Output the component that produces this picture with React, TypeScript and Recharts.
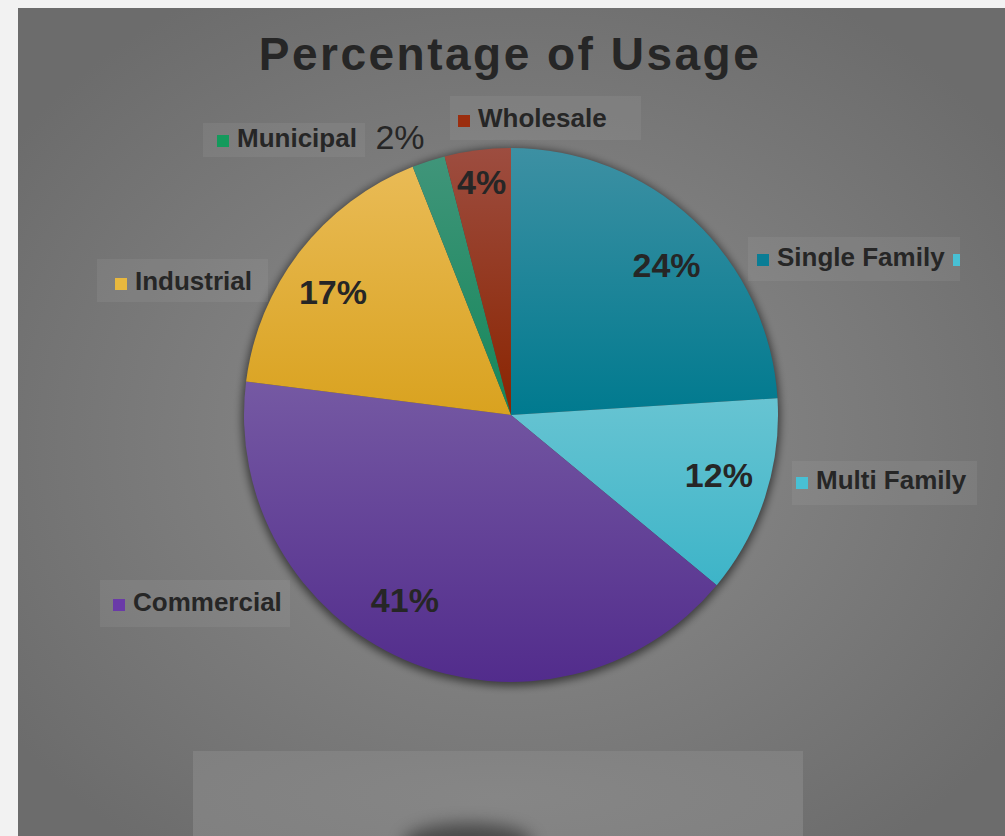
import { PieChart, Pie, Cell } from "recharts";

const categories = ["Single Family", "Multi Family", "Commercial", "Industrial", "Municipal", "Wholesale"];
const shares = [24, 12, 41, 17, 2, 4];
const percentLabels = ["24%", "12%", "41%", "17%", "2%", "4%"];

const data = categories.map((name, i) => ({ name, value: shares[i], label: percentLabels[i] }));

// gradient top -> bottom for each slice, plus legend marker colour
const sliceTop = ["#3d90a3", "#67c4d2", "#7559a3", "#e9bb56", "#40957a", "#9d4d40"];
const sliceBottom = ["#007a8f", "#3db4c8", "#522c8c", "#d9a21f", "#15875a", "#8a2400"];
const markerColors = ["#0a7d95", "#48c0d4", "#6a3aa8", "#e8b83e", "#149a5c", "#9b2d0e"];

const FONT = '"Liberation Sans", Arial, sans-serif';
const RAD = Math.PI / 180;

// where the percentage sits: fraction of radius + angle nudge
const pctPlacement = [
  { rf: 0.81, da: -2.8, weight: 700 },
  { rf: 0.81, da: 2, weight: 700 },
  { rf: 0.8, da: -6.4, weight: 700 },
  { rf: 0.81, da: 3.2, weight: 700 },
  { rf: 1.12, da: 3.8, weight: 400 },
  { rf: 0.88, da: 0, weight: 700 },
];

// category tag boxes (chart coordinates)
const nameBoxes = [
  { x: 730, y: 229, w: 212, h: 44, tx: 759, ty: 258, tail: true },
  { x: 774, y: 453, w: 185, h: 44, tx: 798, ty: 481 },
  { x: 82, y: 572, w: 190, h: 47, tx: 115, ty: 603 },
  { x: 79, y: 251, w: 171, h: 43, tx: 117, ty: 282 },
  { x: 185, y: 115, w: 162, h: 34, tx: 219, ty: 139 },
  { x: 432, y: 88, w: 191, h: 44, tx: 460, ty: 119 },
];

function SliceLabel(props: any) {
  const { cx, cy, midAngle, outerRadius, index, payload } = props;
  const p = pctPlacement[index];
  const a = (midAngle + p.da) * RAD;
  const x = cx + outerRadius * p.rf * Math.cos(a);
  const y = cy - outerRadius * p.rf * Math.sin(a);
  const b = nameBoxes[index];
  return (
    <g>
      <rect x={b.x} y={b.y} width={b.w} height={b.h} fill="#ffffff" fillOpacity={0.06} />
      <rect x={b.tx - 20} y={b.ty - 12} width={12} height={12} fill={markerColors[index]} />
      {b.tail && <rect x={b.x + b.w - 7} y={b.ty - 12} width={7} height={12} fill={markerColors[1]} />}
      <text x={b.tx} y={b.ty} fill="#262626" fontFamily={FONT} fontWeight={700} fontSize={26}>
        {payload.name}
      </text>
      <text
        x={x}
        y={y}
        fill="#262626"
        fontFamily={FONT}
        fontWeight={p.weight}
        fontSize={34}
        textAnchor="middle"
        dominantBaseline="central"
      >
        {payload.label}
      </text>
    </g>
  );
}

export default function App() {
  return (
    <div style={{ position: "fixed", left: 0, top: 0, width: 1005, height: 836, background: "#f2f2f2", overflow: "hidden" }}>
      <div
        style={{
          position: "absolute",
          left: 18,
          top: 8,
          width: 987,
          height: 828,
          background: "radial-gradient(ellipse 62% 62% at 50% 52%, #8a8a8a 0%, #7f7f7f 45%, #6c6c6c 100%)",
        }}
      >
        <div
          style={{
            position: "absolute",
            left: 175,
            top: 743,
            width: 610,
            height: 90,
            background: "radial-gradient(ellipse 60% 90% at 50% 50%, #868686 0%, #808080 100%)",
          }}
        />
        <div
          style={{
            position: "absolute",
            left: 385,
            top: 815,
            width: 130,
            height: 40,
            borderRadius: "50%",
            background: "#333",
            filter: "blur(8px)",
            opacity: 0.7,
          }}
        />
        <div style={{ position: "absolute", left: 0, top: 0 }}>
          <PieChart width={987} height={828} margin={{ top: 0, right: 0, bottom: 0, left: 0 }}>
            <defs>
              {categories.map((c, i) => (
                <linearGradient key={c} id={`slice${i}`} x1="0" y1="0" x2="0" y2="1">
                  <stop offset="0%" stopColor={sliceTop[i]} />
                  <stop offset="100%" stopColor={sliceBottom[i]} />
                </linearGradient>
              ))}
              <filter id="pieBlur" x="-10%" y="-10%" width="120%" height="120%">
                <feGaussianBlur stdDeviation="4" />
              </filter>
            </defs>
            <text
              x={492}
              y={62}
              textAnchor="middle"
              fill="#262626"
              fontFamily={FONT}
              fontWeight={700}
              fontSize={46}
              letterSpacing={2.5}
            >
              Percentage of Usage
            </text>
            <Pie
              data={data}
              dataKey="value"
              nameKey="name"
              cx={493}
              cy={409}
              outerRadius={269}
              startAngle={90}
              endAngle={-270}
              stroke="none"
              isAnimationActive={false}
            >
              {data.map((d) => (
                <Cell key={d.name} fill="#000" fillOpacity={0.55} filter="url(#pieBlur)" />
              ))}
            </Pie>
            <Pie
              data={data}
              dataKey="value"
              nameKey="name"
              cx={493}
              cy={407}
              outerRadius={267}
              startAngle={90}
              endAngle={-270}
              stroke="none"
              labelLine={false}
              label={SliceLabel}
              isAnimationActive={false}
            >
              {data.map((d, i) => (
                <Cell key={d.name} fill={`url(#slice${i})`} />
              ))}
            </Pie>
          </PieChart>
        </div>
      </div>
    </div>
  );
}
